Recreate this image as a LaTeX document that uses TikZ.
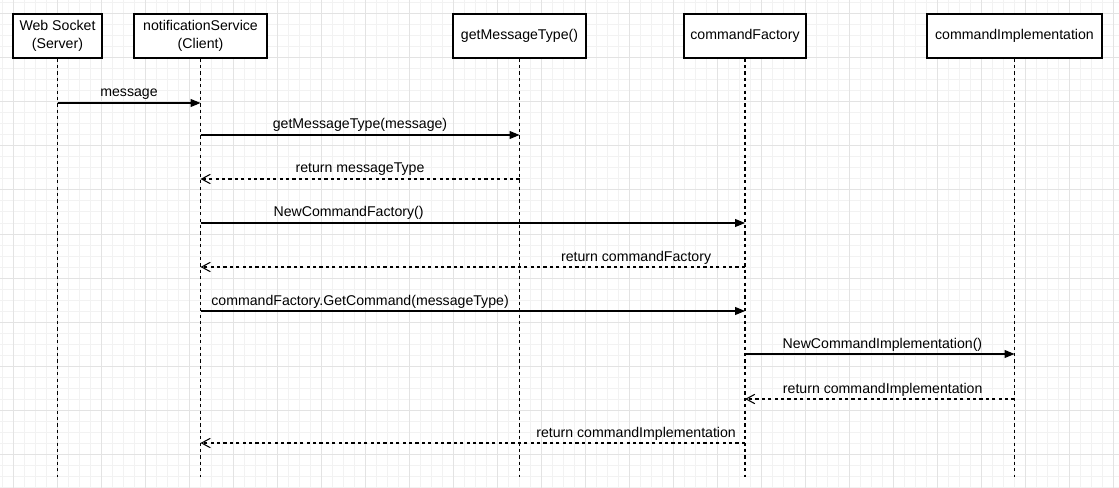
\documentclass[tikz,border=0pt]{standalone}
\usepackage{fontspec}
\setmainfont{Liberation Sans}
\usetikzlibrary{arrows.meta}
\newcommand{\px}{0.75pt}
\tikzset{
    sequence diagram/.style={
            x=0.75pt,y=-0.75pt,
            font=\fontsize{10.6}{13.2}\selectfont,
            minor/.style={line width=0.75pt,black!5},
            major/.style={line width=0.75pt,black!11},
            box/.style={draw,line width=0.8pt,fill=white,align=center,minimum height=44*\px,inner sep=0pt},
            lifeline/.style={line width=0.8pt,dash pattern=on 2.4pt off 2.4pt},
            call/.style={line width=0.8pt,-{Triangle[length=7.5pt,width=6pt]}},
            reply/.style={line width=0.8pt,dash pattern=on 2.4pt off 2.4pt,-{Straight Barb[length=6.5pt,width=7pt]}},
            msg/.style={anchor=base,yshift=4.5pt,inner sep=0pt}
        }
    }
\begin{document}
\begin{tikzpicture}[sequence diagram]
        \useasboundingbox (0,0) rectangle (1119,488);
        % grid
        \fill [white] (0,0) rectangle (1119,488);
        \foreach \g in {2,13,...,1119} \draw [minor] (\g,0) -- (\g,488);
        \foreach \g in {3,14,...,488} \draw [minor] (0,\g) -- (1119,\g);
        \foreach \g in {13,57,...,1119} \draw [major] (\g,0) -- (\g,488);
        \foreach \g in {14,58,...,488} \draw [major] (0,\g) -- (1119,\g);
        % participants
        \node (ws) [box, minimum width=89*\px] at (57.5,36) {Web Socket\\(Server)};
        \node (ns) [box, minimum width=133*\px] at (200.5,36) {notificationService\\(Client)};
        \node (gmt) [box, minimum width=133*\px] at (519.5,36) {getMessageType()};
        \node (cf) [box, minimum width=122*\px] at (745,36) {commandFactory};
        \node (ci) [box, minimum width=175*\px] at (1014.5,36) {commandImplementation};
        \foreach \p in {ws,ns,gmt,cf,ci}
            \draw [lifeline] (\p) -- (\p |- 0,477);
        % messages
        \draw [call] (ws |- 0,103) -- (ns |- 0,103) node [pos=0.5, msg] {message};
        \draw [call] (ns |- 0,135) -- (gmt |- 0,135) node [pos=0.5, msg] {getMessageType(message)};
        \draw [reply] (gmt |- 0,179) -- (ns |- 0,179) node [pos=0.5, msg] {return messageType};
        \draw [call] (ns |- 0,223) -- (cf |- 0,223) node [pos=0.272, msg] {NewCommandFactory()};
        \draw [reply] (cf |- 0,267) -- (ns |- 0,267) node [pos=0.2, msg] {return commandFactory};
        \draw [call] (ns |- 0,311) -- (cf |- 0,311) node [pos=0.293, msg] {commandFactory.GetCommand(messageType)};
        \draw [call] (cf |- 0,354) -- (ci |- 0,354) node [pos=0.51, msg] {NewCommandImplementation()};
        \draw [reply] (ci |- 0,399) -- (cf |- 0,399) node [pos=0.489, msg] {return commandImplementation};
        \draw [reply] (cf |- 0,443) -- (ns |- 0,443) node [pos=0.2, msg] {return commandImplementation};
    \end{tikzpicture}
\end{document}
